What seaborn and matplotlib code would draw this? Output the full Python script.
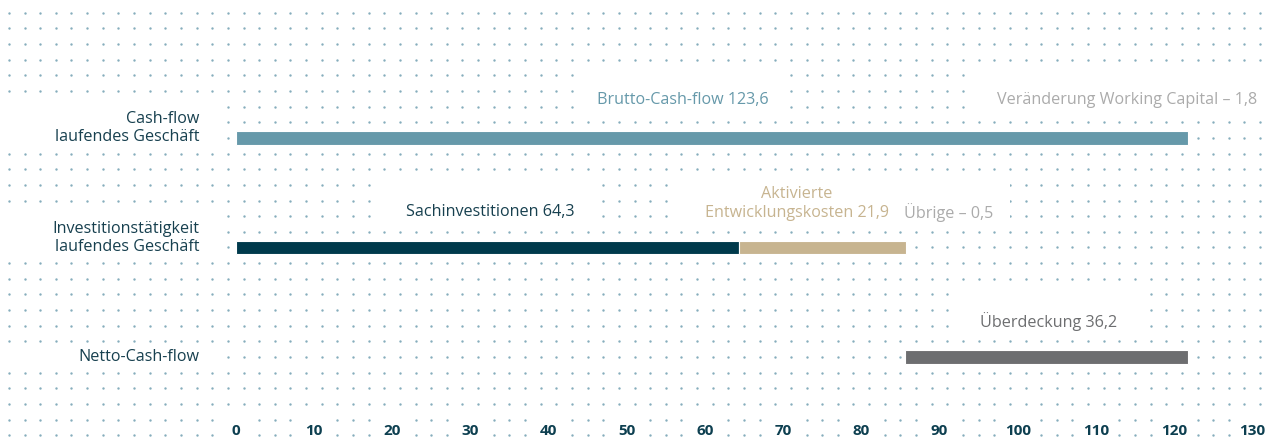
import numpy as np
import pandas as pd
import matplotlib
matplotlib.use("Agg")
import matplotlib.pyplot as plt
from matplotlib.patches import Rectangle
import seaborn as sns

# ---- data (Mio. EUR) ----
row_labels = ["Cash-flow\nlaufendes Geschäft",
              "Investitionstätigkeit\nlaufendes Geschäft",
              "Netto-Cash-flow"]
brutto_cash_flow = 123.6
working_capital = -1.8
sachinvestitionen = 64.3
entwicklungskosten = 21.9
uebrige = -0.5
ueberdeckung = 36.2
x_ticks = list(range(0, 131, 10))

# ---- styling ----
sns.set_theme(style="white")
plt.rcParams["font.family"] = ["Open Sans", "DejaVu Sans"]

DARK = "#17404f"
TEAL = "#6699aa"
NAVY = "#003a4c"
TAN = "#c7b490"
GREY = "#6d6e70"
LIGHT = "#ababab"
DOT = "#86adbd"


def de(v):
    return f"{v:.1f}".replace(".", ",")


fig = plt.figure(figsize=(12.66, 4.37), dpi=100)
ax = fig.add_axes([0, 0, 1, 1])
ax.set_xlim(-30.14, 131.75)
ax.set_ylim(27.11, -0.81)
for s in ax.spines.values():
    s.set_visible(False)
ax.set_yticks([])

# dotted background grid
gx, gy = np.meshgrid(np.arange(-29, 132, 2), np.arange(0, 28))
grid = pd.DataFrame({"x": gx.ravel(), "y": gy.ravel()})
sns.scatterplot(data=grid, x="x", y="y", s=3.0, color=DOT, linewidth=0,
                ax=ax, zorder=1, legend=False)

# white panels behind the labels (x0, x1, first row, last row)
clear_boxes = [
    (-31, -1.6, 6, 8), (-31, -1.6, 13, 15), (-31, -1.6, 22, 22),
    (44, 70, 4, 6), (93.8, 133, 4, 6),
    (18, 46, 11, 13), (56.5, 99, 11, 13),
    (91.5, 116.5, 18, 20),
]
clear_boxes += [(t - 2, t + 2, 26, 27) for t in x_ticks]
for x0, x1, r0, r1 in clear_boxes:
    ax.add_patch(Rectangle((x0, r0 - 0.5), x1 - x0, r1 - r0 + 1,
                           facecolor="white", edgecolor="none", zorder=1.5))

# bars
bar_rows = [8, 15, 22]
cf_total = brutto_cash_flow + working_capital
invest_end = sachinvestitionen + entwicklungskosten + uebrige
segments = pd.DataFrame({
    "row": [bar_rows[0], bar_rows[1], bar_rows[1], bar_rows[2]],
    "left": [0, 0, sachinvestitionen, cf_total - ueberdeckung],
    "width": [cf_total, sachinvestitionen, invest_end - sachinvestitionen, ueberdeckung],
    "color": [TEAL, NAVY, TAN, GREY],
})
ax.barh(segments["row"], segments["width"], left=segments["left"], height=0.85,
        color=segments["color"], edgecolor="white", linewidth=0.8, zorder=2)

# row labels
for r, lab in zip(bar_rows, row_labels):
    n = lab.count("\n")
    ax.text(-4.6, r - 0.62 * n, lab, ha="right", va="center", fontsize=11.6,
            color=DARK, linespacing=1.2, zorder=3)

# value annotations
fs = 11.6
ax.text(57.2, 5.58, f"Brutto-Cash-flow {de(brutto_cash_flow)}", ha="center",
        va="center", fontsize=fs, color=TEAL, zorder=3)
ax.text(130.6, 5.58, f"Veränderung Working Capital – {de(abs(working_capital))}",
        ha="right", va="center", fontsize=fs, color=LIGHT, zorder=3)
ax.text(32.5, 12.75, f"Sachinvestitionen {de(sachinvestitionen)}", ha="center",
        va="center", fontsize=fs, color=DARK, zorder=3)
ax.text(71.8, 12.2, f"Aktivierte\nEntwicklungskosten {de(entwicklungskosten)}",
        ha="center", va="center", fontsize=fs, color=TAN, linespacing=1.2, zorder=3)
ax.text(91.2, 12.75, f"Übrige – {de(abs(uebrige))}", ha="center", va="center",
        fontsize=fs, color=LIGHT, zorder=3)
ax.text(103.9, 19.76, f"Überdeckung {de(ueberdeckung)}", ha="center",
        va="center", fontsize=fs, color=GREY, zorder=3)

# x axis labels inside the plotting area
ax.set_xticks(x_ticks)
ax.set_xticklabels([str(t) for t in x_ticks])
ax.tick_params(axis="x", length=0, pad=-9.2, labelsize=11, labelcolor="#0d3f50")
for lbl in ax.get_xticklabels():
    lbl.set_fontweight("bold")
ax.set_axisbelow(False)
ax.xaxis.set_zorder(3)
ax.set_xlabel("")
ax.set_ylabel("")

fig.savefig("out.png", dpi=100, facecolor="white")
